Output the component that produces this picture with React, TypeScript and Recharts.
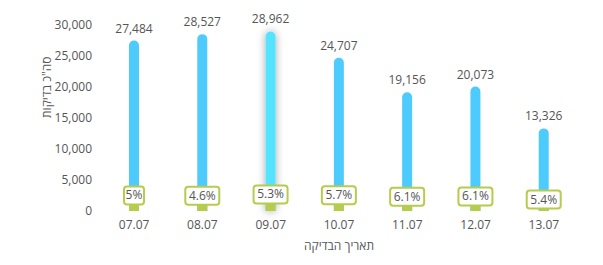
import React from "react";
import { BarChart, Bar, XAxis, YAxis, LabelList, Cell } from "recharts";

const dates = ["07.07", "08.07", "09.07", "10.07", "11.07", "12.07", "13.07"];
const totalTests = [27484, 28527, 28962, 24707, 19156, 20073, 13326];
const positives = [1374, 1312, 1535, 1408, 1169, 1224, 720];
const positiveRate = ["5%", "4.6%", "5.3%", "5.7%", "6.1%", "6.1%", "5.4%"];
const yTicks = [0, 5000, 10000, 15000, 20000, 25000, 30000];

const data = dates.map((d, i) => ({ date: d, total: totalTests[i], pos: positives[i], rate: positiveRate[i] }));

const BLUE = "#4ecbfd";
const BLUE_HI = "#55e3ff";
const GREEN = "#b6cc4c";
const TEXT = "#555";
const FONT = "'Open Sans', sans-serif";

function RateLabel(props: any) {
  const { x, y, width, index } = props;
  const txt = positiveRate[index];
  const w = txt.length * 7 + 6;
  const h = 18;
  const cx = x + width / 2;
  const bottom = y + 2;
  return (
    <g>
      <rect x={cx - w / 2} y={bottom - h} width={w} height={h} rx={3} fill="#fff" stroke={GREEN} strokeWidth={2} />
      <text x={cx} y={bottom - h / 2 + 4} textAnchor="middle" fontSize={12} fill={TEXT} fontFamily={FONT}>
        {txt}
      </text>
    </g>
  );
}

export default function App() {
  return (
    <div style={{ width: 603, height: 265, fontFamily: FONT }}>
      <BarChart
        width={587}
        height={257}
        data={data}
        margin={{ top: 17, right: 17, bottom: 24, left: 82 }}
        barGap={-10}
        barSize={10}
      >
        <defs>
          <filter id="hl" x="-200%" y="-20%" width="500%" height="140%">
            <feDropShadow dx="0" dy="0" stdDeviation="4" floodColor="#000" floodOpacity="0.35" />
          </filter>
        </defs>
        <XAxis
          dataKey="date"
          axisLine={false}
          tickLine={false}
          tick={{ fill: TEXT, fontSize: 12, fontFamily: FONT }}
          tickMargin={3}
          label={{ value: "תאריך הבדיקה", position: "insideBottom", offset: -9, fill: TEXT, fontSize: 12, fontFamily: FONT }}
        />
        <YAxis
          domain={[0, 30000]}
          ticks={yTicks}
          axisLine={false}
          tickLine={false}
          width={10}
          tick={{ fill: TEXT, fontSize: 12, fontFamily: FONT }}
          tickFormatter={(v: number) => v.toLocaleString("en-US")}
          label={{ value: 'סה"כ בדיקות', angle: -90, position: "insideLeft", offset: -43, fill: TEXT, fontSize: 12, fontFamily: FONT }}
        />
        <Bar dataKey="total" fill={BLUE} radius={[5, 5, 0, 0]} isAnimationActive={false}>
          {data.map((d, i) => (
            <Cell key={d.date} fill={i === 2 ? BLUE_HI : BLUE} filter={i === 2 ? "url(#hl)" : undefined} />
          ))}
          <LabelList
            dataKey="total"
            position="top"
            offset={8}
            formatter={(v: number) => v.toLocaleString("en-US")}
            style={{ fill: TEXT, fontSize: 12, fontFamily: FONT }}
          />
        </Bar>
        <Bar dataKey="pos" fill={GREEN} isAnimationActive={false}>
          <LabelList dataKey="rate" content={RateLabel} />
        </Bar>
      </BarChart>
    </div>
  );
}
